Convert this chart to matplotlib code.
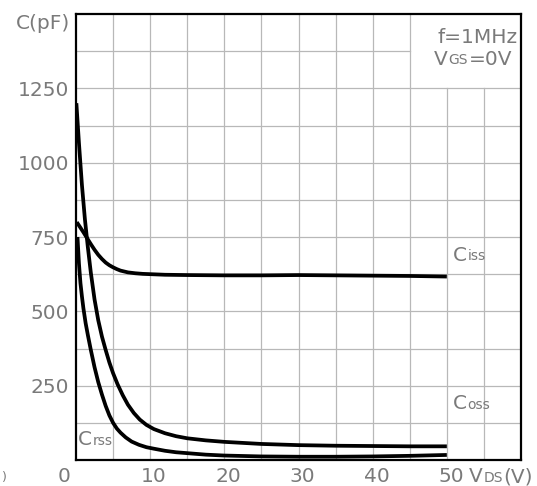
import numpy as np
import matplotlib
matplotlib.use("Agg")
import matplotlib.pyplot as plt
from matplotlib.transforms import ScaledTranslation

# ---- data ----
ciss_v = [0.1, 0.5, 1.0, 1.5, 2.0, 2.5, 3.0, 3.5, 4.0, 4.5, 5.0, 5.5, 6.0, 7.0, 8.0, 9.0,
          10, 12, 15, 20, 25, 30, 35, 40, 45, 50]
ciss_c = [800, 785, 766, 746, 726, 707, 690, 676, 664, 655, 648, 642, 637, 631, 628, 626,
          625, 623, 622, 621, 621, 622, 621, 620, 619, 617]

coss_v = [0.05, 0.4, 0.8, 1.2, 1.6, 2.0, 2.5, 3.0, 3.5, 4.0, 4.5, 5.0, 5.6, 6.3, 7.0, 7.8,
          8.6, 9.5, 10.5, 12, 13.5, 15, 17.5, 20, 25, 30, 35, 40, 45, 50]
coss_c = [1200, 1065, 925, 810, 715, 630, 540, 470, 415, 370, 328, 292, 255, 218, 186, 158,
          136, 118, 104, 90, 80, 73, 66, 61, 54, 50, 48, 47, 46, 46]

crss_v = [0.2, 0.4, 0.6, 0.8, 1.0, 1.3, 1.6, 2.0, 2.5, 3.0, 3.5, 4.0, 4.5, 5.0, 5.5, 6.0,
          6.7, 7.5, 8.5, 9.5, 10.5, 12, 13.5, 15, 17.5, 20, 25, 30, 35, 40, 45, 50]
crss_c = [750, 660, 595, 550, 510, 460, 420, 370, 312, 262, 220, 182, 150, 125, 106, 92,
          76, 62, 51, 43, 38, 31, 26, 23, 18, 15, 12, 11, 11, 12, 14, 17]

x_ticks = [0, 10, 20, 30, 40, 50]
x_tick_labels = ["0", "10", "20", "30", "40", "50"]
y_ticks = [250, 500, 750, 1000, 1250]
y_tick_labels = ["250", "500", "750", "1000", "1250"]

XMAX, YMAX = 60, 1500
XSTEP, YSTEP = 5, 125

TXT = "#7a7a7a"
GRID = "#b8b8b8"
FS = 14.5
FS_S = 10

fig = plt.figure(figsize=(5.37, 4.86), dpi=100)
ax = fig.add_axes([76 / 537, 26 / 486, 445 / 537, 446 / 486])
ax.set_xlim(0, XMAX)
ax.set_ylim(0, YMAX)

# grid (with the blank box at upper right)
for xv in np.arange(XSTEP, XMAX, XSTEP):
    top = 1250 if xv > 45 else YMAX
    ax.plot([xv, xv], [0, top], color=GRID, lw=0.9, zorder=1)
for yv in np.arange(YSTEP, YMAX, YSTEP):
    right = 45 if yv > 1250 else XMAX
    ax.plot([0, right], [yv, yv], color=GRID, lw=0.9, zorder=1)

for v, c in [(ciss_v, ciss_c), (coss_v, coss_c), (crss_v, crss_c)]:
    ax.plot(v, c, color="black", lw=2.7, solid_capstyle="butt",
            solid_joinstyle="round", zorder=3)

for s in ax.spines.values():
    s.set_linewidth(1.6)
    s.set_color("black")
    s.set_zorder(4)

ax.tick_params(length=0, labelsize=FS, labelcolor=TXT, pad=5)
ax.set_xticks(x_ticks, x_tick_labels)
ax.set_yticks(y_ticks, y_tick_labels)
for i, lab in enumerate(ax.get_xticklabels()):
    if i == 0:
        lab.set_transform(lab.get_transform() + ScaledTranslation(-12 / 100, 0, fig.dpi_scale_trans))
    else:
        lab.set_transform(lab.get_transform() + ScaledTranslation(4 / 100, 0, fig.dpi_scale_trans))


def composite(parts, x, y):
    """parts: list of (string, size); drawn side by side sharing baseline."""
    first = ax.text(x, y, parts[0][0], fontsize=parts[0][1], color=TXT,
                    ha="left", va="baseline", clip_on=False, zorder=5)
    prev = first
    prev_size = parts[0][1]
    for s, size in parts[1:]:
        dy = 0.23 * (prev_size - size)
        prev = ax.annotate(s, xy=(1, 0), xycoords=prev, xytext=(0.5, dy),
                           textcoords="offset points", fontsize=size, color=TXT,
                           ha="left", va="bottom", annotation_clip=False, zorder=5)
        prev_size = size
    return first


composite([("C", FS), ("iss", FS_S)], 50.8, 670)
composite([("C", FS), ("oss", FS_S)], 50.8, 170)
composite([("C", FS), ("rss", FS_S)], 0.3, 50)
ax.text(59.6, 1402, "f=1MHz", fontsize=FS, color=TXT, ha="right", va="baseline")
composite([("V", FS), ("GS", FS_S), ("=0V", FS)], 48.3, 1330)
composite([("V", FS), ("DS", FS_S), ("(V)", FS)], 53.0, -75)
ax.text(-0.8, 1450, "C(pF)", fontsize=FS, color=TXT, ha="right", va="baseline", clip_on=False)
fig.text(2 / 537, 0.005, ")", fontsize=9, color=TXT, ha="left", va="bottom")

fig.savefig("out.png", dpi=100, facecolor="white")
